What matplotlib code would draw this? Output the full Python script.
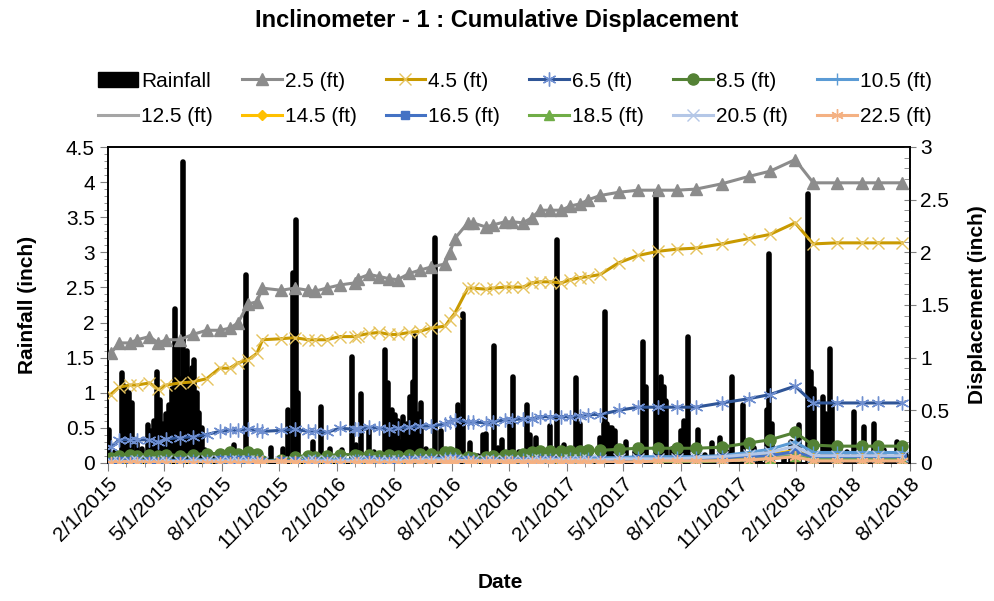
import numpy as np
import pandas as pd
import matplotlib
matplotlib.use('agg')
import matplotlib.pyplot as plt
import matplotlib.dates as mdates
from matplotlib.lines import Line2D
from matplotlib.patches import Patch
from matplotlib.ticker import MultipleLocator, FuncFormatter

plt.rcParams['font.family'] = ['Liberation Sans', 'DejaVu Sans']

# rainfall events (date, inch)
rain_dates = ['2015-02-03', '2015-02-24', '2015-03-02', '2015-03-11', '2015-03-19', '2015-04-06',
              '2015-04-20', '2015-04-25', '2015-04-30', '2015-05-09', '2015-05-19', '2015-05-24',
              '2015-06-01', '2015-06-06', '2015-06-10', '2015-06-18', '2015-06-26', '2015-08-20',
              '2015-09-09', '2015-11-07', '2015-11-15', '2015-11-23', '2015-11-27', '2015-12-01',
              '2016-01-06', '2016-01-20', '2016-02-24', '2016-03-10', '2016-03-23', '2016-04-17',
              '2016-04-22', '2016-04-28', '2016-05-03', '2016-05-13', '2016-05-16', '2016-05-27',
              '2016-05-31', '2016-06-04', '2016-06-14', '2016-07-05', '2016-07-15', '2016-08-11',
              '2016-08-20', '2016-09-20', '2016-09-25', '2016-10-07', '2016-10-21', '2016-11-02',
              '2016-11-07', '2016-11-29', '2016-12-04', '2017-01-04', '2017-01-16', '2017-02-15',
              '2017-02-21', '2017-03-26', '2017-03-31', '2017-04-02', '2017-04-10', '2017-04-18',
              '2017-06-02', '2017-06-06', '2017-06-23', '2017-07-01', '2017-07-05', '2017-07-09',
              '2017-08-02', '2017-08-13', '2017-08-28', '2017-10-03', '2017-10-22', '2017-11-08',
              '2017-12-16', '2017-12-20', '2017-12-24', '2018-02-05', '2018-02-20', '2018-02-25',
              '2018-03-01', '2018-03-16', '2018-03-27', '2018-03-30', '2018-05-04', '2018-05-20',
              '2018-06-05', '2018-07-12',
              # filling days inside the wet spells
              '2015-02-27', '2015-03-06', '2015-04-10', '2015-04-15', '2015-05-04', '2015-05-14',
              '2015-05-28', '2015-06-04', '2015-06-14', '2015-06-22', '2015-06-30', '2016-04-20',
              '2016-05-08', '2016-05-22', '2016-06-08', '2016-08-16', '2017-04-06', '2017-04-14',
              '2017-06-27', '2017-08-06', '2018-02-28', '2018-03-21',
              # small events
              '2015-02-12', '2015-03-27', '2015-07-05', '2015-07-17', '2015-08-03',
              '2015-10-02', '2015-10-19', '2015-12-14', '2015-12-24', '2016-01-12', '2016-02-09',
              '2016-03-02', '2016-03-30', '2016-06-22', '2016-07-26', '2016-08-31', '2016-09-12',
              '2016-10-14', '2016-11-16', '2016-12-14', '2016-12-24', '2017-01-09', '2017-01-27',
              '2017-03-10', '2017-05-06', '2017-05-20', '2017-07-18', '2017-09-08', '2017-09-20',
              '2017-10-14', '2017-11-25', '2017-12-05', '2018-01-12', '2018-01-24', '2018-04-12',
              '2018-04-22', '2018-05-28', '2018-06-20', '2018-07-25']
rain_vals = [0.47, 1.28, 1.04, 0.85, 0.30, 0.54,
             1.29, 0.90, 0.55, 0.83, 2.20, 1.70,
             4.28, 1.60, 1.25, 1.47, 0.71, 0.26,
             2.68, 0.20, 0.75, 2.70, 3.46, 1.00,
             0.80, 0.20, 1.51, 0.98, 0.47, 1.61,
             1.14, 0.75, 0.68, 0.30, 0.65, 0.94,
             1.15, 1.81, 0.85, 3.21, 0.45, 0.83,
             2.12, 0.40, 0.42, 1.66, 0.33, 0.60,
             1.22, 0.83, 0.40, 0.52, 3.18, 1.21,
             0.55, 0.35, 0.55, 2.15, 0.50, 0.45,
             1.73, 1.08, 3.84, 1.22, 1.08, 0.88,
             0.45, 1.79, 0.47, 0.35, 1.22, 0.83,
             0.75, 2.97, 0.55, 0.54, 3.83, 1.30,
             1.05, 0.94, 1.62, 0.80, 0.73, 0.51,
             0.55, 0.30,
             1.10, 0.99, 0.45, 0.60, 0.70, 1.05,
             1.20, 1.30, 1.35, 1.00, 0.50, 1.00,
             0.60, 0.55, 0.70, 0.60, 0.55, 0.50,
             1.00, 0.60, 0.90, 0.70,
             0.15, 0.20, 0.18, 0.10, 0.14,
             0.08, 0.22, 0.12, 0.30, 0.10, 0.18,
             0.25, 0.15, 0.20, 0.12, 0.28, 0.10,
             0.22, 0.15, 0.35, 0.12, 0.18, 0.25,
             0.10, 0.30, 0.15, 0.20, 0.12, 0.28,
             0.16, 0.22, 0.10, 0.12, 0.30, 0.20,
             0.15, 0.10, 0.18, 0.12]

# inclinometer readings
disp_dates = ['2015-02-05', '2015-02-19', '2015-03-08', '2015-03-19', '2015-04-08', '2015-04-22',
              '2015-05-05', '2015-05-26', '2015-06-16', '2015-07-08', '2015-07-29', '2015-08-14',
              '2015-08-27', '2015-09-12', '2015-09-26', '2015-10-05', '2015-11-04', '2015-11-25',
              '2015-12-17', '2015-12-27', '2016-01-15', '2016-02-05', '2016-02-29', '2016-03-05',
              '2016-03-23', '2016-04-08', '2016-04-24', '2016-05-07', '2016-05-26', '2016-06-11',
              '2016-06-29', '2016-07-22', '2016-07-29', '2016-08-06', '2016-08-27', '2016-09-04',
              '2016-09-25', '2016-10-06', '2016-10-25', '2016-11-05', '2016-11-23', '2016-12-07',
              '2016-12-20', '2017-01-05', '2017-01-23', '2017-02-06', '2017-02-22', '2017-03-07',
              '2017-03-26', '2017-04-24', '2017-05-25', '2017-06-26', '2017-07-26', '2017-08-25',
              '2017-10-05', '2017-11-17', '2017-12-21', '2018-01-30', '2018-02-28', '2018-04-06',
              '2018-05-16', '2018-06-11', '2018-07-19']

d25 = [1.04, 1.14, 1.14, 1.17, 1.20, 1.14, 1.17, 1.17, 1.22, 1.26, 1.26, 1.28, 1.33, 1.51, 1.53, 1.66, 1.64, 1.66, 1.64, 1.63,
       1.66, 1.69, 1.71, 1.75, 1.79, 1.77, 1.75, 1.74, 1.80, 1.83, 1.86, 1.89, 1.99, 2.13, 2.28, 2.28, 2.24, 2.26, 2.29, 2.29, 2.28, 2.33, 2.40,
       2.40, 2.40, 2.44, 2.46, 2.50, 2.54, 2.57, 2.59, 2.59, 2.59, 2.60, 2.65, 2.72, 2.77,
       2.88, 2.66, 2.66, 2.66, 2.66, 2.66]
d45 = [0.65, 0.72, 0.74, 0.74, 0.76, 0.70, 0.74, 0.76, 0.77, 0.80, 0.90, 0.90, 0.95, 0.98, 1.04, 1.17, 1.18, 1.19, 1.17, 1.17,
       1.17, 1.20, 1.20, 1.21, 1.23, 1.24, 1.22, 1.22, 1.24, 1.25, 1.28, 1.30, 1.36, 1.42, 1.66, 1.66, 1.65, 1.66, 1.67, 1.67, 1.67, 1.71, 1.72,
       1.72, 1.71, 1.74, 1.76, 1.77, 1.79, 1.90, 1.97, 2.01, 2.03, 2.04, 2.08, 2.13, 2.17,
       2.28, 2.08, 2.09, 2.09, 2.09, 2.09]
d65 = [0.15, 0.22, 0.22, 0.22, 0.22, 0.20, 0.23, 0.24, 0.25, 0.27, 0.30, 0.31, 0.31, 0.32, 0.31, 0.30, 0.31, 0.32, 0.30, 0.30,
       0.29, 0.33, 0.32, 0.32, 0.34, 0.33, 0.32, 0.33, 0.34, 0.35, 0.35, 0.37, 0.39, 0.41, 0.39, 0.39, 0.38, 0.39, 0.41, 0.41, 0.42, 0.42, 0.44,
       0.44, 0.44, 0.44, 0.45, 0.46, 0.46, 0.50, 0.53, 0.53, 0.53, 0.53, 0.57, 0.61, 0.65,
       0.73, 0.57, 0.57, 0.57, 0.57, 0.57]
d85 = [0.05, 0.07, 0.08, 0.07, 0.08, 0.07, 0.08, 0.07, 0.08, 0.09, 0.09, 0.10, 0.09, 0.10, 0.09, 0.02, 0.03, 0.06, 0.07, 0.06,
       0.07, 0.08, 0.08, 0.07, 0.08, 0.07, 0.08, 0.07, 0.08, 0.09, 0.09, 0.10, 0.10, 0.09, 0.06, 0.05, 0.06, 0.07, 0.08, 0.08, 0.09, 0.10, 0.11,
       0.11, 0.11, 0.11, 0.11, 0.12, 0.12, 0.13, 0.14, 0.14, 0.14, 0.14, 0.15, 0.19, 0.22,
       0.29, 0.17, 0.16, 0.16, 0.16, 0.16]
d105 = [0.01, 0.02, 0.02, 0.03, 0.02, 0.02, 0.03, 0.02, 0.03, 0.03, 0.03, 0.04, 0.03, 0.04, 0.03, 0.02, 0.02, 0.02, 0.03, 0.03,
        0.03, 0.03, 0.03, 0.03, 0.04, 0.03, 0.03, 0.03, 0.04, 0.04, 0.04, 0.05, 0.05, 0.05, 0.04, 0.03, 0.03, 0.03, 0.03, 0.03, 0.04, 0.04, 0.04,
        0.04, 0.04, 0.05, 0.05, 0.05, 0.05, 0.05, 0.06, 0.06, 0.06, 0.06, 0.07, 0.10, 0.13,
        0.20, 0.10, 0.10, 0.10, 0.10, 0.10]
d125 = [0.00, 0.01, 0.01, 0.01, 0.01, 0.01, 0.01, 0.01, 0.01, 0.01, 0.02, 0.02, 0.02, 0.02, 0.01, 0.01, 0.01, 0.01, 0.01, 0.01,
        0.01, 0.01, 0.01, 0.01, 0.02, 0.01, 0.01, 0.01, 0.02, 0.02, 0.02, 0.02, 0.02, 0.02, 0.02, 0.02, 0.02, 0.02, 0.02, 0.02, 0.02, 0.02, 0.02,
        0.02, 0.02, 0.02, 0.02, 0.02, 0.02, 0.03, 0.03, 0.03, 0.03, 0.03, 0.04, 0.05, 0.06,
        0.08, 0.03, 0.03, 0.03, 0.03, 0.03]
d145 = [0.00, 0.00, -0.01, 0.00, 0.00, -0.01, 0.00, 0.00, 0.00, 0.00, 0.01, 0.01, 0.01, 0.01, 0.00, -0.01, 0.00, 0.00, 0.00, 0.00,
        0.00, 0.00, 0.00, 0.00, 0.01, 0.00, 0.00, 0.00, 0.01, 0.01, 0.01, 0.01, 0.02, 0.02, 0.01, 0.00, 0.00, 0.01, 0.01, 0.01, 0.01, 0.01, 0.01,
        0.01, 0.00, 0.00, 0.01, 0.01, 0.01, 0.02, 0.02, 0.03, 0.03, 0.03, 0.04, 0.06, 0.08,
        0.12, 0.05, 0.05, 0.05, 0.05, 0.05]
d165 = [0.01, 0.02, 0.02, 0.02, 0.02, 0.01, 0.02, 0.02, 0.02, 0.02, 0.03, 0.03, 0.03, 0.03, 0.02, 0.01, 0.02, 0.02, 0.02, 0.02,
        0.02, 0.02, 0.02, 0.02, 0.03, 0.02, 0.02, 0.02, 0.03, 0.03, 0.03, 0.03, 0.04, 0.04, 0.03, 0.02, 0.02, 0.02, 0.02, 0.02, 0.02, 0.02, 0.03,
        0.03, 0.02, 0.02, 0.02, 0.03, 0.03, 0.03, 0.04, 0.04, 0.04, 0.04, 0.05, 0.06, 0.07,
        0.11, 0.05, 0.05, 0.05, 0.05, 0.05]
d185 = [-0.02, -0.02, -0.02, -0.01, -0.02, -0.02, -0.01, -0.02, -0.02, -0.01, -0.01, -0.02, -0.02, -0.01, -0.02, -0.03, -0.02, -0.02, -0.02, -0.02,
        -0.02, -0.02, -0.01, -0.02, -0.01, -0.02, -0.02, -0.02, -0.01, -0.01, -0.01, -0.01, 0.00, 0.00, -0.01, -0.01, -0.01, -0.01, -0.01, -0.01, -0.01, -0.01, -0.01,
        -0.01, -0.02, -0.02, -0.01, -0.01, -0.01, -0.02, -0.02, 0.00, 0.01, 0.01, 0.02, 0.03, 0.04,
        0.07, 0.03, 0.03, 0.03, 0.03, 0.03]
d205 = [0.01, 0.01, 0.01, 0.02, 0.01, 0.01, 0.02, 0.01, 0.02, 0.02, 0.02, 0.02, 0.02, 0.02, 0.02, 0.01, 0.01, 0.01, 0.02, 0.02,
        0.02, 0.02, 0.02, 0.02, 0.02, 0.02, 0.02, 0.02, 0.02, 0.03, 0.03, 0.03, 0.03, 0.03, 0.02, 0.02, 0.02, 0.02, 0.02, 0.02, 0.02, 0.03, 0.03,
        0.03, 0.03, 0.03, 0.03, 0.03, 0.03, 0.04, 0.04, 0.04, 0.04, 0.05, 0.06, 0.08, 0.10,
        0.16, 0.07, 0.07, 0.07, 0.07, 0.07]
d225 = [0.00, 0.00, 0.00, 0.00, 0.00, 0.00, 0.00, 0.00, 0.00, 0.00, 0.00, 0.00, 0.00, 0.00, 0.01, 0.01, 0.02, 0.01, 0.00, 0.00,
        0.00, 0.00, 0.00, 0.00, 0.01, 0.00, 0.00, 0.00, 0.01, 0.01, 0.01, 0.01, 0.01, 0.01, 0.01, 0.01, 0.01, 0.01, 0.01, 0.01, 0.01, 0.01, 0.01,
        0.01, 0.01, 0.01, 0.01, 0.01, 0.01, 0.01, 0.01, 0.02, 0.02, 0.02, 0.02, 0.03, 0.04,
        0.06, 0.02, 0.02, 0.02, 0.02, 0.02]

labels = ['2.5 (ft)', '4.5 (ft)', '6.5 (ft)', '8.5 (ft)', '10.5 (ft)', '12.5 (ft)',
          '14.5 (ft)', '16.5 (ft)', '18.5 (ft)', '20.5 (ft)', '22.5 (ft)']
series = [d25, d45, d65, d85, d105, d125, d145, d165, d185, d205, d225]

asterisk = (6, 2, 0)
# (line colour, marker, marker face, marker edge, marker size)
styles = [('#8c8c8c', '^', '#8c8c8c', '#8c8c8c', 8),
          ('#c99a00', 'x', 'none', '#e6c35c', 9),
          ('#2f5597', asterisk, 'none', '#6f8fd0', 10),
          ('#548235', 'o', '#548235', '#548235', 8),
          ('#5b9bd5', '+', 'none', '#5b9bd5', 8),
          ('#a5a5a5', 'None', 'none', '#a5a5a5', 6),
          ('#ffc000', 'D', '#ffc000', '#ffc000', 5),
          ('#4472c4', 's', '#4472c4', '#4472c4', 6),
          ('#70ad47', '^', '#70ad47', '#70ad47', 7),
          ('#b4c7e7', 'x', 'none', '#b4c7e7', 8),
          ('#f4b183', asterisk, 'none', '#f4b183', 9)]

rd = pd.to_datetime(rain_dates)
dd = pd.to_datetime(disp_dates)

fig = plt.figure(figsize=(9.95, 6.01), dpi=100)
ax = fig.add_axes([108 / 995, 1 - 463 / 601, 802 / 995, 316 / 601])
ax2 = ax.twinx()

rain = ax.vlines(rd, 0, rain_vals, color='black', lw=4.0)
rain.set_capstyle('round')

for vals, (c, m, mfc, mec, ms) in zip(series, styles):
    ax2.plot(dd, vals, color=c, lw=2.2, marker=m, mfc=mfc, mec=mec, ms=ms, mew=1.0, zorder=3)

ax.set_xlim(pd.Timestamp('2015-02-01'), pd.Timestamp('2018-08-01'))
ax.set_ylim(0, 4.5)
ax2.set_ylim(0, 3)
ax.yaxis.set_major_locator(MultipleLocator(0.5))
ax.yaxis.set_minor_locator(MultipleLocator(0.1))
ax2.yaxis.set_major_locator(MultipleLocator(0.5))
ax2.yaxis.set_minor_locator(MultipleLocator(0.1))
ax.yaxis.set_major_formatter(FuncFormatter(lambda v, p: '%g' % v))
ax2.yaxis.set_major_formatter(FuncFormatter(lambda v, p: '%g' % v))

ax.xaxis.set_major_locator(mdates.MonthLocator(bymonth=[2, 5, 8, 11], bymonthday=1))
ax.xaxis.set_minor_locator(mdates.MonthLocator(bymonthday=1))
ax.xaxis.set_major_formatter(FuncFormatter(
    lambda v, p: '%d/%d/%d' % (mdates.num2date(v).month, mdates.num2date(v).day, mdates.num2date(v).year)))

for a in (ax, ax2):
    for s in a.spines.values():
        s.set_color('black')
        s.set_linewidth(1.2)
ax.tick_params(axis='y', which='major', direction='out', length=6, labelsize=15, color='#808080')
ax.tick_params(axis='y', which='minor', direction='out', length=3, color='#808080')
ax.tick_params(axis='x', which='major', direction='out', length=6, labelsize=15, color='#808080', pad=2)
ax.tick_params(axis='x', which='minor', direction='out', length=3, color='#808080')
ax2.tick_params(axis='y', which='major', direction='inout', length=8, labelsize=15, color='#808080')
ax2.tick_params(axis='y', which='minor', direction='in', length=4, color='#808080')
for lab in ax.get_xticklabels():
    lab.set_rotation(45)
    lab.set_ha('right')
    lab.set_rotation_mode('anchor')

fig.text(497 / 995, 1 - 20 / 601, 'Inclinometer - 1 : Cumulative Displacement',
         ha='center', va='center', fontsize=17, fontweight='bold')
fig.text(28 / 995, 1 - 305 / 601, 'Rainfall (inch)', rotation=90,
         ha='center', va='center', fontsize=15, fontweight='bold')
fig.text(978 / 995, 1 - 305 / 601, 'Displacement (inch)', rotation=90,
         ha='center', va='center', fontsize=15, fontweight='bold')
fig.text(500 / 995, 1 - 583 / 601, 'Date', ha='center', va='center', fontsize=15, fontweight='bold')

# legend: column-first fill, so interleave the two rows
handles = [Patch(facecolor='black', edgecolor='black')]
for (c, m, mfc, mec, ms) in styles:
    handles.append(Line2D([], [], color=c, lw=2.2, marker=m, mfc=mfc, mec=mec, ms=ms, mew=1.0))
names = ['Rainfall'] + labels
order = [0, 6, 1, 7, 2, 8, 3, 9, 4, 10, 5, 11]
fig.legend([handles[i] for i in order], [names[i] for i in order], ncol=6,
           loc='center', bbox_to_anchor=(515 / 995, 1 - 99 / 601), frameon=False,
           fontsize=15, handlelength=1.9, handletextpad=0.15, columnspacing=1.4,
           labelspacing=0.8, borderpad=0)

fig.savefig('out.png', dpi=100)
